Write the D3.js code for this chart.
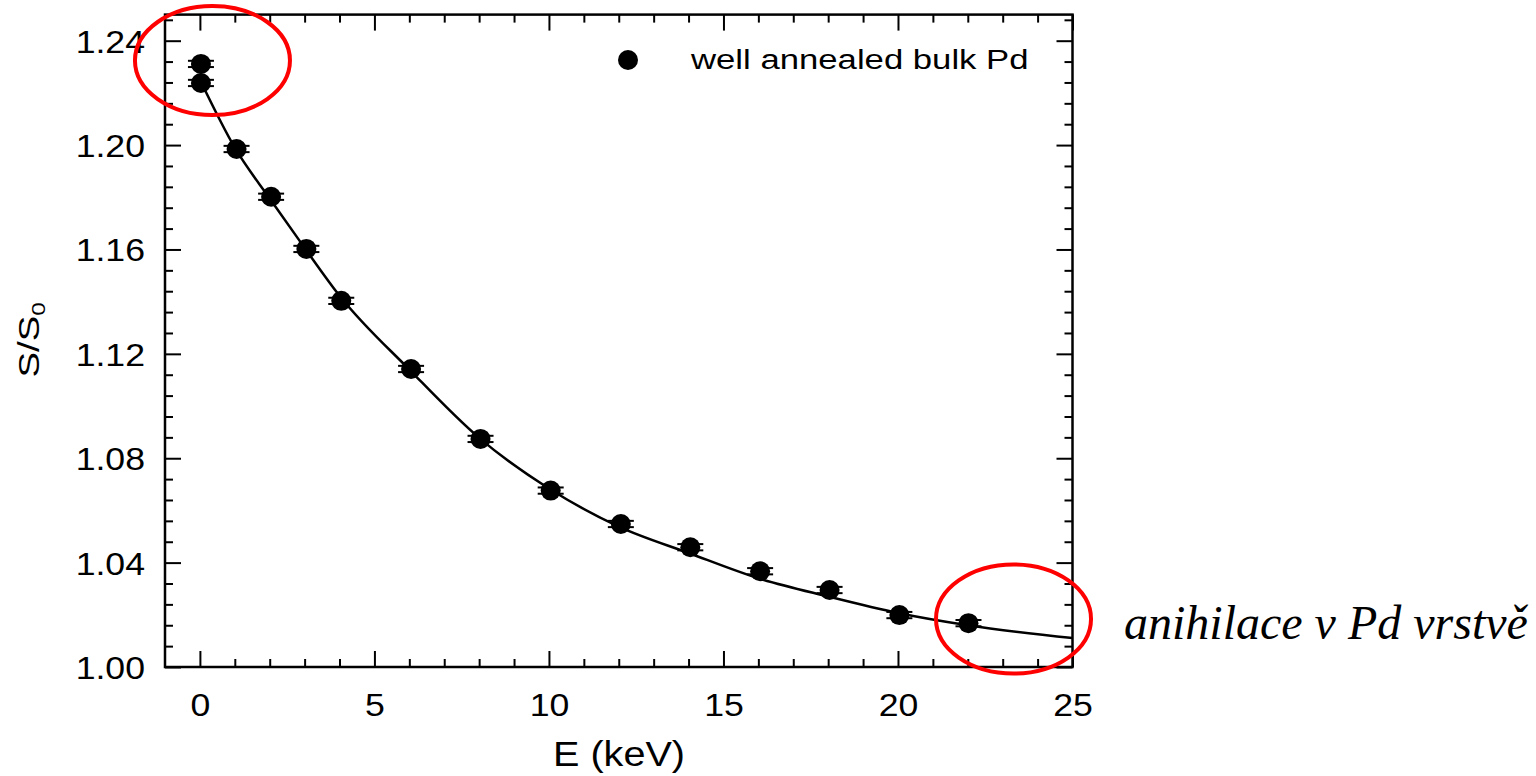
<!DOCTYPE html>
<html>
<head>
<meta charset="utf-8">
<script src="https://cdn.jsdelivr.net/npm/d3@7"></script>
<style>
  body { margin: 0; background: #fff; }
  svg { display: block; }
</style>
</head>
<body>
<div class="chart"></div>
<script>
// measured points (E in keV, S/S0)
const energy = [0.03, 0.03, 1.05, 2.04, 3.05, 4.05, 6.05, 8.04, 10.05, 12.06, 14.05, 16.05, 18.04, 20.04, 22.02];
const sRatio = [1.2311, 1.2238, 1.1985, 1.1802, 1.1602, 1.1403, 1.1142, 1.0874, 1.0676, 1.0548, 1.0459, 1.0367, 1.0295, 1.0199, 1.0168];
const sError = [0.0012, 0.0012, 0.0012, 0.0012, 0.0012, 0.0012, 0.0012, 0.0012, 0.0012, 0.0012, 0.0012, 0.0012, 0.0012, 0.0012, 0.0012];

// fitted curve
const fitE = [0.05, 1, 2, 3, 4, 6, 8, 10, 12, 14, 16, 18, 20, 22, 25];
const fitS = [1.2237, 1.1990, 1.1795, 1.1606, 1.1423, 1.1140, 1.0878, 1.0684, 1.0538, 1.0437, 1.0340, 1.0270, 1.0207, 1.0160, 1.0111];

const xTicks = [0, 5, 10, 15, 20, 25];
const yTicks = [1.00, 1.04, 1.08, 1.12, 1.16, 1.20, 1.24];

const legendLabel = 'well annealed bulk Pd';
const noteText = 'anihilace v Pd vrstvě';
// red circles: centres in data units
const circleE = [0.36, 23.31];
const circleS = [1.2324, 1.0184];

const svg = d3.select('.chart').append('svg')
    .attr('width', 1536)
    .attr('height', 776);

const x = d3.scaleLinear().domain([-1, 25]).range([165, 1072.5]);
const y = d3.scaleLinear().domain([1.00, 1.25]).range([667, 14.6]);

const sx = 1.15; // horizontal stretch of the original figure text
const font = 'Liberation Sans, Arial, sans-serif';

// minor tick positions
const xMinor = d3.range(0, 26).filter(v => v % 5 !== 0);
const yMinor = d3.range(1, 32).filter(i => i % 5 !== 0).map(i => 1 + i * 0.008);

const axisStyle = g => {
    g.select('.domain').remove();
    g.selectAll('line').attr('stroke', '#000').attr('stroke-width', 2);
};

// bottom
svg.append('g').attr('transform', `translate(0,${y(1.00)})`)
    .call(d3.axisBottom(x).tickValues(xTicks).tickSizeInner(-16).tickSizeOuter(0).tickFormat(d3.format('d')))
    .call(axisStyle)
    .call(g => g.selectAll('text')
        .attr('y', null).attr('dy', null)
        .attr('transform', `translate(0,49) scale(${sx},1)`)
        .attr('font-family', font).attr('font-size', 31).attr('fill', '#000'));
svg.append('g').attr('transform', `translate(0,${y(1.00)})`)
    .call(d3.axisBottom(x).tickValues(xMinor).tickSizeInner(-8).tickSizeOuter(0).tickFormat(''))
    .call(axisStyle);

// top
svg.append('g').attr('transform', `translate(0,${y(1.25)})`)
    .call(d3.axisTop(x).tickValues(xTicks).tickSizeInner(-16).tickSizeOuter(0).tickFormat(''))
    .call(axisStyle);
svg.append('g').attr('transform', `translate(0,${y(1.25)})`)
    .call(d3.axisTop(x).tickValues(xMinor).tickSizeInner(-8).tickSizeOuter(0).tickFormat(''))
    .call(axisStyle);

// left
svg.append('g').attr('transform', `translate(${x(-1)},0)`)
    .call(d3.axisLeft(y).tickValues(yTicks).tickSizeInner(-16).tickSizeOuter(0).tickFormat(d3.format('.2f')))
    .call(axisStyle)
    .call(g => g.selectAll('text')
        .attr('x', null).attr('dy', null)
        .attr('transform', `translate(-20,11.5) scale(${sx},1)`)
        .attr('font-family', font).attr('font-size', 31).attr('fill', '#000'));
svg.append('g').attr('transform', `translate(${x(-1)},0)`)
    .call(d3.axisLeft(y).tickValues(yMinor).tickSizeInner(-8).tickSizeOuter(0).tickFormat(''))
    .call(axisStyle);

// right
svg.append('g').attr('transform', `translate(${x(25)},0)`)
    .call(d3.axisRight(y).tickValues(yTicks).tickSizeInner(-16).tickSizeOuter(0).tickFormat(''))
    .call(axisStyle);
svg.append('g').attr('transform', `translate(${x(25)},0)`)
    .call(d3.axisRight(y).tickValues(yMinor).tickSizeInner(-8).tickSizeOuter(0).tickFormat(''))
    .call(axisStyle);

// frame
svg.append('rect')
    .attr('x', x(-1)).attr('y', y(1.25))
    .attr('width', x(25) - x(-1)).attr('height', y(1.00) - y(1.25))
    .attr('fill', 'none').attr('stroke', '#000').attr('stroke-width', 2.5);

// fit curve
const fitData = fitE.map((e, i) => ({ e, s: fitS[i] }));
svg.append('path')
    .datum(fitData)
    .attr('fill', 'none').attr('stroke', '#000').attr('stroke-width', 2.5)
    .attr('d', d3.line().x(d => x(d.e)).y(d => y(d.s)).curve(d3.curveMonotoneX));

// points with error bars
const pts = energy.map((e, i) => ({ e, s: sRatio[i], err: sError[i] }));
const capW = 13;
const bars = svg.append('g').selectAll('g').data(pts).enter().append('g');
bars.append('line')
    .attr('x1', d => x(d.e)).attr('x2', d => x(d.e))
    .attr('y1', d => y(d.s - d.err)).attr('y2', d => y(d.s + d.err))
    .attr('stroke', '#000').attr('stroke-width', 2);
[-1, 1].forEach(k => {
    bars.append('line')
        .attr('x1', d => x(d.e) - capW).attr('x2', d => x(d.e) + capW)
        .attr('y1', d => y(d.s + k * d.err)).attr('y2', d => y(d.s + k * d.err))
        .attr('stroke', '#000').attr('stroke-width', 2);
});
bars.append('circle')
    .attr('cx', d => x(d.e)).attr('cy', d => y(d.s))
    .attr('r', 10).attr('fill', '#000');

// legend
svg.append('circle').attr('cx', 628).attr('cy', 60).attr('r', 10).attr('fill', '#000');
svg.append('text')
    .attr('transform', `translate(691,69) scale(1.24,1)`)
    .attr('font-family', font).attr('font-size', 28)
    .text(legendLabel);

// axis titles
svg.append('text')
    .attr('transform', `translate(619,766) scale(1.1,1)`)
    .attr('text-anchor', 'middle')
    .attr('font-family', font).attr('font-size', 36)
    .text('E (keV)');

const yTitle = svg.append('text')
    .attr('transform', 'translate(39,377.5) rotate(-90) scale(1.28,1)')
    .attr('font-family', font).attr('font-size', 30);
yTitle.append('tspan').text('S/S');
yTitle.append('tspan').attr('dy', 6).attr('font-size', 19).text('0');

// red circles
svg.append('g').selectAll('ellipse')
    .data(circleE.map((e, i) => ({ e, s: circleS[i] })))
    .enter().append('ellipse')
    .attr('cx', d => x(d.e)).attr('cy', d => y(d.s))
    .attr('rx', 77.5).attr('ry', 54.5)
    .attr('fill', 'none').attr('stroke', '#f00').attr('stroke-width', 4);

// annotation
svg.append('text')
    .attr('x', 1124).attr('y', 638.5)
    .attr('font-family', 'Liberation Serif, Times New Roman, serif')
    .attr('font-style', 'italic').attr('font-size', 48)
    .text(noteText);
</script>
</body>
</html>
